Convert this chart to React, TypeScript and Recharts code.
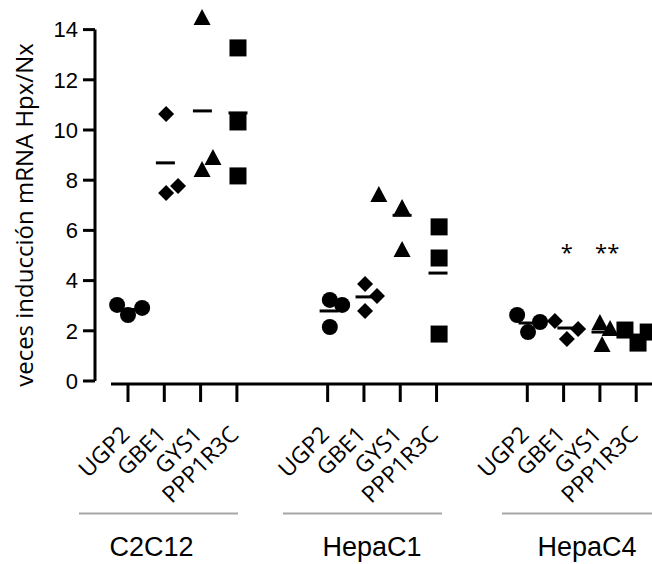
import { ScatterChart, Scatter, XAxis, YAxis, ReferenceLine } from "recharts";

// x = column position (one slot per gene, groups separated by gaps), y = fold induction
const TICK_POS = [0, 1, 2, 3, 5.5, 6.5, 7.5, 8.5, 11, 12, 13, 14];
const TICK_LABELS = [
  "UGP2", "GBE1", "GYS1", "PPP1R3C",
  "UGP2", "GBE1", "GYS1", "PPP1R3C",
  "UGP2", "GBE1", "GYS1", "PPP1R3C",
];
const Y_TICKS = [0, 2, 4, 6, 8, 10, 12, 14];
const GROUPS = ["C2C12", "HepaC1", "HepaC4"];

const ugp2 = [
  { x: -0.3, y: 3.03 }, { x: 0.0, y: 2.63 }, { x: 0.39, y: 2.91 },
  { x: 5.56, y: 3.23 }, { x: 5.9, y: 3.03 }, { x: 5.56, y: 2.15 },
  { x: 10.72, y: 2.63 }, { x: 11.02, y: 1.95 }, { x: 11.35, y: 2.35 },
];
const gbe1 = [
  { x: 1.05, y: 10.64 }, { x: 1.05, y: 7.49 }, { x: 1.38, y: 7.77 },
  { x: 6.53, y: 3.86 }, { x: 6.86, y: 3.39 }, { x: 6.53, y: 2.79 },
  { x: 11.76, y: 2.39 }, { x: 12.4, y: 2.07 }, { x: 12.09, y: 1.67 },
];
const gys1 = [
  { x: 2.04, y: 14.5 }, { x: 2.04, y: 8.45 }, { x: 2.34, y: 8.92 },
  { x: 6.91, y: 7.45 }, { x: 7.55, y: 6.93 }, { x: 7.55, y: 5.26 },
  { x: 13.0, y: 2.35 }, { x: 13.06, y: 1.47 }, { x: 13.28, y: 2.11 },
];
const ppp1r3c = [
  { x: 3.03, y: 13.27 }, { x: 3.03, y: 10.32 }, { x: 3.03, y: 8.17 },
  { x: 8.57, y: 6.14 }, { x: 8.57, y: 4.9 }, { x: 8.57, y: 1.87 },
  { x: 13.69, y: 2.03 }, { x: 14.05, y: 1.51 }, { x: 14.33, y: 1.95 },
];
const means = [
  { x: 0.0, y: 2.85 }, { x: 1.03, y: 8.69 }, { x: 2.05, y: 10.76 }, { x: 3.03, y: 10.68 },
  { x: 5.54, y: 2.79 }, { x: 6.53, y: 3.35 }, { x: 7.55, y: 6.6 }, { x: 8.54, y: 4.3 },
  { x: 11.02, y: 2.31 }, { x: 12.09, y: 2.11 }, { x: 13.03, y: 1.95 }, { x: 13.99, y: 1.83 },
];
const stars = [
  { x: 12.09, y: 5.17, label: "*" },
  { x: 13.2, y: 5.17, label: "**" },
];

const X_DOMAIN = [-0.909, 14.435];
const Y_DOMAIN = [-0.12, 14.98];

const Circle = ({ cx, cy }: any) => <circle cx={cx} cy={cy} r={8} fill="#000" />;
const Diamond = ({ cx, cy }: any) => (
  <polygon
    points={`${cx},${cy - 8} ${cx + 8},${cy} ${cx},${cy + 8} ${cx - 8},${cy}`}
    fill="#000"
  />
);
const Triangle = ({ cx, cy }: any) => (
  <polygon
    points={`${cx},${cy - 8} ${cx + 8.5},${cy + 8} ${cx - 8.5},${cy + 8}`}
    fill="#000"
  />
);
const Square = ({ cx, cy }: any) => (
  <rect x={cx - 8.5} y={cy - 8.5} width={17} height={17} fill="#000" />
);
const MeanBar = ({ cx, cy }: any) => (
  <line x1={cx - 9.5} x2={cx + 9.5} y1={cy} y2={cy} stroke="#000" strokeWidth={3} />
);
const Star = ({ cx, cy, payload }: any) => (
  <text
    x={cx}
    y={cy}
    textAnchor="middle"
    dominantBaseline="central"
    fontFamily="Open Sans"
    fontSize={22}
    fill="#000"
  >
    {payload.label}
  </text>
);

const GeneTick = ({ x, y, index }: any) => {
  const px = x + 3;
  const py = y + 32;
  return (
    <text
      x={px}
      y={py}
      transform={`rotate(-45, ${px}, ${py})`}
      textAnchor="end"
      fontFamily="Open Sans"
      fontSize={23}
      fill="#000"
    >
      {TICK_LABELS[index]}
    </text>
  );
};

export default function App() {
  return (
    <div style={{ position: "absolute", left: 0, top: 0, width: 652, height: 564, background: "#fff" }}>
      <ScatterChart width={652} height={564} margin={{ top: 5, right: 0, bottom: 0, left: 0 }}>
        <XAxis
          type="number"
          dataKey="x"
          domain={X_DOMAIN}
          allowDataOverflow
          ticks={TICK_POS}
          interval={0}
          height={180}
          axisLine={false}
          tickLine={{ stroke: "#000", strokeWidth: 3 }}
          tickSize={18}
          tick={<GeneTick />}
        />
        <YAxis
          type="number"
          dataKey="y"
          domain={Y_DOMAIN}
          allowDataOverflow
          ticks={Y_TICKS}
          interval={0}
          width={95}
          axisLine={false}
          tickLine={{ stroke: "#000", strokeWidth: 3 }}
          tickSize={12}
          tickMargin={5}
          tick={{ fontFamily: "Liberation Sans", fontSize: 22, fill: "#000" }}
        />
        <ReferenceLine
          segment={[{ x: X_DOMAIN[0], y: 0 }, { x: X_DOMAIN[0], y: 14 }]}
          stroke="#000"
          strokeWidth={3}
          ifOverflow="visible"
        />
        <ReferenceLine
          segment={[{ x: -0.468, y: Y_DOMAIN[0] }, { x: X_DOMAIN[1], y: Y_DOMAIN[0] }]}
          stroke="#000"
          strokeWidth={3}
          ifOverflow="visible"
        />
        <Scatter data={ugp2} shape={<Circle />} isAnimationActive={false} />
        <Scatter data={gbe1} shape={<Diamond />} isAnimationActive={false} />
        <Scatter data={gys1} shape={<Triangle />} isAnimationActive={false} />
        <Scatter data={ppp1r3c} shape={<Square />} isAnimationActive={false} />
        <Scatter data={means} shape={<MeanBar />} isAnimationActive={false} />
        <Scatter data={stars} shape={<Star />} isAnimationActive={false} />
      </ScatterChart>
      <svg
        width={652}
        height={564}
        style={{ position: "absolute", left: 0, top: 0, pointerEvents: "none" }}
      >
        <text
          x={33}
          y={215}
          transform="rotate(-90, 33, 215)"
          textAnchor="middle"
          fontFamily="Open Sans"
          fontSize={24}
          fill="#000"
        >
          veces inducción mRNA Hpx/Nx
        </text>
        <line x1={79} x2={238} y1={513.5} y2={513.5} stroke="#a6a6a6" strokeWidth={2} />
        <line x1={283} x2={442} y1={513.5} y2={513.5} stroke="#a6a6a6" strokeWidth={2} />
        <line x1={502} x2={652} y1={513.5} y2={513.5} stroke="#a6a6a6" strokeWidth={2} />
        <text x={151.5} y={556} textAnchor="middle" fontFamily="Liberation Sans" fontSize={27} fill="#000">
          {GROUPS[0]}
        </text>
        <text x={372} y={556} textAnchor="middle" fontFamily="Liberation Sans" fontSize={27} fill="#000">
          {GROUPS[1]}
        </text>
        <text x={587} y={556} textAnchor="middle" fontFamily="Liberation Sans" fontSize={27} fill="#000">
          {GROUPS[2]}
        </text>
      </svg>
    </div>
  );
}
